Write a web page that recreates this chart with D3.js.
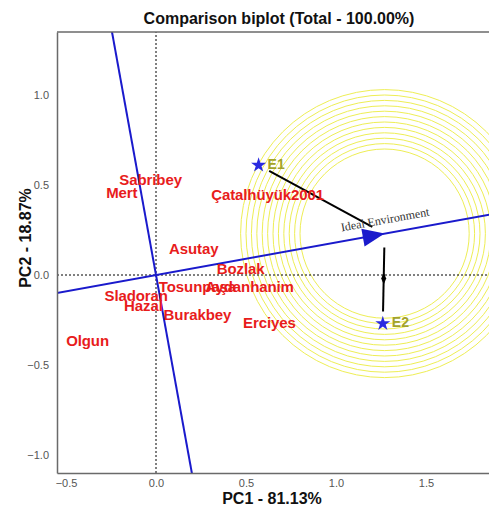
<!DOCTYPE html>
<html>
<head>
<meta charset="utf-8">
<script src="https://cdn.jsdelivr.net/npm/d3@7"></script>
<style>
  body { margin: 0; background: #fff; }
  svg { display: block; font-family: "Liberation Sans", Arial, sans-serif; }
</style>
</head>
<body>
<div id="chart"></div>
<script>
// GGE comparison biplot (environments)

// Genotype scores
const genotypes = ["Sabribey", "Mert", "Çatalhüyük2001", "Asutay", "Bozlak", "Tosunpaşa",
    "Aydanhanim", "Sladoran", "Hazal", "Burakbey", "Erciyes", "Olgun"];
const genoPC1 = [-0.03, -0.19, 0.62, 0.21, 0.47, 0.23, 0.52, -0.11, -0.07, 0.23, 0.63, -0.38];
const genoPC2 = [0.52, 0.45, 0.44, 0.14, 0.03, -0.07, -0.07, -0.12, -0.18, -0.23, -0.27, -0.37];

// Environment scores
const envs = ["E1", "E2"];
const envPC1 = [0.57, 1.26];
const envPC2 = [0.61, -0.27];

// Ideal environment and the concentric circles around it
const ideal = [1.27, 0.23];
const circleRadii = [0.47, 0.50, 0.53, 0.56, 0.59, 0.62, 0.65, 0.68, 0.71, 0.74, 0.77, 0.80];

// Axis ticks
const xTicks = [-0.5, 0.0, 0.5, 1.0, 1.5];
const yTicks = [-1.0, -0.5, 0.0, 0.5, 1.0];

const width = 489;
const height = 506;
const margin = { top: 32, right: 0, bottom: 33, left: 57 };

const svg = d3.select("#chart")
    .append("svg")
    .attr("width", width)
    .attr("height", height);

const x = d3.scaleLinear()
    .domain([-0.55, 1.85])
    .range([margin.left, width - margin.right]);

const y = d3.scaleLinear()
    .domain([-1.1, 1.35])
    .range([height - margin.bottom, margin.top]);

svg.append("clipPath")
    .attr("id", "plot-clip")
    .append("rect")
    .attr("x", margin.left)
    .attr("y", margin.top)
    .attr("width", width - margin.left - margin.right)
    .attr("height", height - margin.top - margin.bottom);

const plot = svg.append("g").attr("clip-path", "url(#plot-clip)");

// Yellow circles
plot.selectAll("circle.ring")
    .data(circleRadii)
    .enter()
    .append("circle")
    .attr("class", "ring")
    .attr("cx", x(ideal[0]))
    .attr("cy", y(ideal[1]))
    .attr("r", d => x(d) - x(0))
    .attr("fill", "none")
    .attr("stroke", "#eeee55")
    .attr("stroke-width", 1);

// Dotted origin lines
plot.append("line")
    .attr("x1", x(0)).attr("x2", x(0))
    .attr("y1", y.range()[0]).attr("y2", y.range()[1])
    .attr("stroke", "#000").attr("stroke-width", 1)
    .attr("stroke-dasharray", "2,2");

plot.append("line")
    .attr("x1", x.range()[0]).attr("x2", x.range()[1])
    .attr("y1", y(0)).attr("y2", y(0))
    .attr("stroke", "#000").attr("stroke-width", 1)
    .attr("stroke-dasharray", "2,2");

// Average environment axis and its perpendicular through the origin
const len = Math.hypot(ideal[0], ideal[1]);
const ux = ideal[0] / len, uy = ideal[1] / len;
const far = 5;
const blue = "#1a1acc";

plot.append("line")
    .attr("x1", x(-ux * far)).attr("y1", y(-uy * far))
    .attr("x2", x(ux * far)).attr("y2", y(uy * far))
    .attr("stroke", blue).attr("stroke-width", 2);

plot.append("line")
    .attr("x1", x(-uy * far)).attr("y1", y(ux * far))
    .attr("x2", x(uy * far)).attr("y2", y(-ux * far))
    .attr("stroke", blue).attr("stroke-width", 2);

// Arrow head at the ideal environment
const tipX = x(ideal[0]), tipY = y(ideal[1]);
const ang = Math.atan2(tipY - y(0), tipX - x(0));
const headLen = 22, headHalf = 9;
const bx = tipX - headLen * Math.cos(ang), by = tipY - headLen * Math.sin(ang);
plot.append("path")
    .attr("d", `M${tipX},${tipY}L${bx - headHalf * Math.sin(ang)},${by + headHalf * Math.cos(ang)}` +
        `L${bx + headHalf * Math.sin(ang)},${by - headHalf * Math.cos(ang)}Z`)
    .attr("fill", blue);

// Lines from the environments towards the ideal
envs.forEach((e, i) => {
    const ex = x(envPC1[i]), ey = y(envPC2[i]);
    const d = Math.hypot(tipX - ex, tipY - ey);
    const dx = (tipX - ex) / d, dy = (tipY - ey) / d;
    const s = 12, t = 14;
    plot.append("line")
        .attr("x1", ex + dx * s).attr("y1", ey + dy * s)
        .attr("x2", tipX - dx * t).attr("y2", tipY - dy * t)
        .attr("stroke", "#000").attr("stroke-width", 2);
    if (i === 1) {
        const mx = (ex + tipX) / 2, my = (ey + tipY) / 2;
        plot.append("path")
            .attr("d", `M${mx},${my - 6}L${mx + 2.5},${my}L${mx},${my + 6}L${mx - 2.5},${my}Z`)
            .attr("fill", "#000");
    }
});

// Ideal environment label
plot.append("text")
    .attr("transform", `translate(${tipX + 3 + 13 * Math.sin(ang)},${tipY - 13 * Math.cos(ang)}) rotate(${ang * 180 / Math.PI})`)
    .attr("text-anchor", "middle")
    .attr("dominant-baseline", "middle")
    .style("font-family", "'Liberation Serif', 'Times New Roman', serif")
    .style("font-size", "12px")
    .attr("fill", "#333")
    .text("Ideal Environment");

// Genotype labels
plot.selectAll("text.geno")
    .data(genotypes)
    .enter()
    .append("text")
    .attr("class", "geno")
    .attr("x", (d, i) => x(genoPC1[i]))
    .attr("y", (d, i) => y(genoPC2[i]))
    .attr("text-anchor", "middle")
    .attr("dominant-baseline", "middle")
    .style("font-size", "15px")
    .style("font-weight", "bold")
    .style("letter-spacing", "-0.1px")
    .attr("fill", "#e81c1c")
    .text(d => d);

// Environment markers
plot.selectAll("path.env")
    .data(envs)
    .enter()
    .append("path")
    .attr("class", "env")
    .attr("transform", (d, i) => `translate(${x(envPC1[i])},${y(envPC2[i])})`)
    .attr("d", d3.symbol().type(d3.symbolStar).size(70))
    .attr("fill", "#2a2ae0");

plot.selectAll("text.env")
    .data(envs)
    .enter()
    .append("text")
    .attr("class", "env")
    .attr("x", (d, i) => x(envPC1[i]) + 9)
    .attr("y", (d, i) => y(envPC2[i]))
    .attr("dominant-baseline", "middle")
    .style("font-size", "14px")
    .style("font-weight", "bold")
    .attr("fill", "#a3a32a")
    .text(d => d);

// Frame and axes
const axisColor = "#6a6a6a";
svg.append("line")
    .attr("x1", margin.left).attr("x2", width)
    .attr("y1", margin.top).attr("y2", margin.top)
    .attr("stroke", axisColor).attr("stroke-width", 1.5);

const xAxis = svg.append("g")
    .attr("transform", `translate(0,${y.range()[0]})`)
    .call(d3.axisBottom(x).tickValues(xTicks).tickFormat(d3.format(".1f")).tickSize(0).tickPadding(6));

const yAxis = svg.append("g")
    .attr("transform", `translate(${margin.left},0)`)
    .call(d3.axisLeft(y).tickValues(yTicks).tickFormat(d3.format(".1f")).tickSize(0).tickPadding(8));

[xAxis, yAxis].forEach(g => {
    g.select(".domain").attr("stroke", axisColor).attr("stroke-width", 1.5);
    g.selectAll("text")
        .style("font-family", "'Liberation Sans', Arial, sans-serif")
        .style("font-size", "11px")
        .attr("fill", "#555");
});

// Titles
svg.append("text")
    .attr("x", 279)
    .attr("y", 24)
    .attr("text-anchor", "middle")
    .style("font-size", "16px")
    .style("font-weight", "bold")
    .attr("fill", "#111")
    .text("Comparison biplot (Total - 100.00%)");

svg.append("text")
    .attr("x", 272)
    .attr("y", 504)
    .attr("text-anchor", "middle")
    .style("font-size", "16px")
    .style("font-weight", "bold")
    .attr("fill", "#111")
    .text("PC1 - 81.13%");

svg.append("text")
    .attr("transform", "translate(31,238) rotate(-90)")
    .attr("text-anchor", "middle")
    .style("font-size", "16px")
    .style("font-weight", "bold")
    .attr("fill", "#111")
    .text("PC2 - 18.87%");
</script>
</body>
</html>
